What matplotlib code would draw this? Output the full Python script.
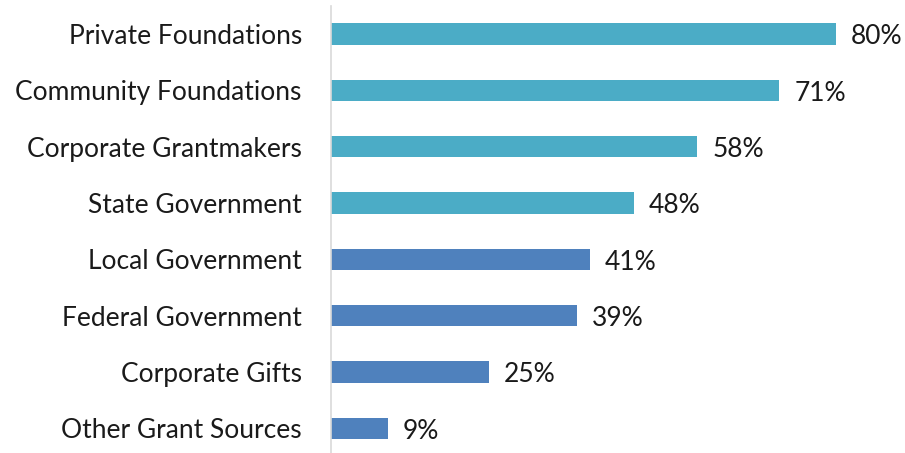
import matplotlib.pyplot as plt

# Grant sources and share of respondents (%)
sources = ["Private Foundations", "Community Foundations", "Corporate Grantmakers",
           "State Government", "Local Government", "Federal Government",
           "Corporate Gifts", "Other Grant Sources"]
values = [80, 71, 58, 48, 41, 39, 25, 9]
colors = ["#4BACC6"] * 4 + ["#4F81BD"] * 4

plt.rcParams["font.family"] = ["Lato", "DejaVu Sans"]

fig = plt.figure(figsize=(9.05, 4.53), dpi=100)
ax = fig.add_axes([331 / 905, 0, (905 - 331) / 905, (453 - 6) / 453])

y = range(len(sources))
ax.barh(y, values, height=0.38, color=colors)

for i, v in enumerate(values):
    ax.text(v + 2.4, i + 0.05, f"{v}%", va="center", ha="left", fontsize=19, color="#1A1A1A")

ax.set_yticks(list(y))
ax.set_yticklabels(sources, fontsize=19, color="#1A1A1A")
ax.tick_params(axis="y", length=0, pad=21)
ax.set_xlim(0, (905 - 331) / 6.3125)
ax.set_ylim(7.435, -0.497)
ax.set_xticks([])

for s in ["top", "right", "bottom"]:
    ax.spines[s].set_visible(False)
ax.spines["left"].set_color("#D9D9D9")
ax.spines["left"].set_linewidth(1.2)

fig.savefig("out.png", dpi=100)
